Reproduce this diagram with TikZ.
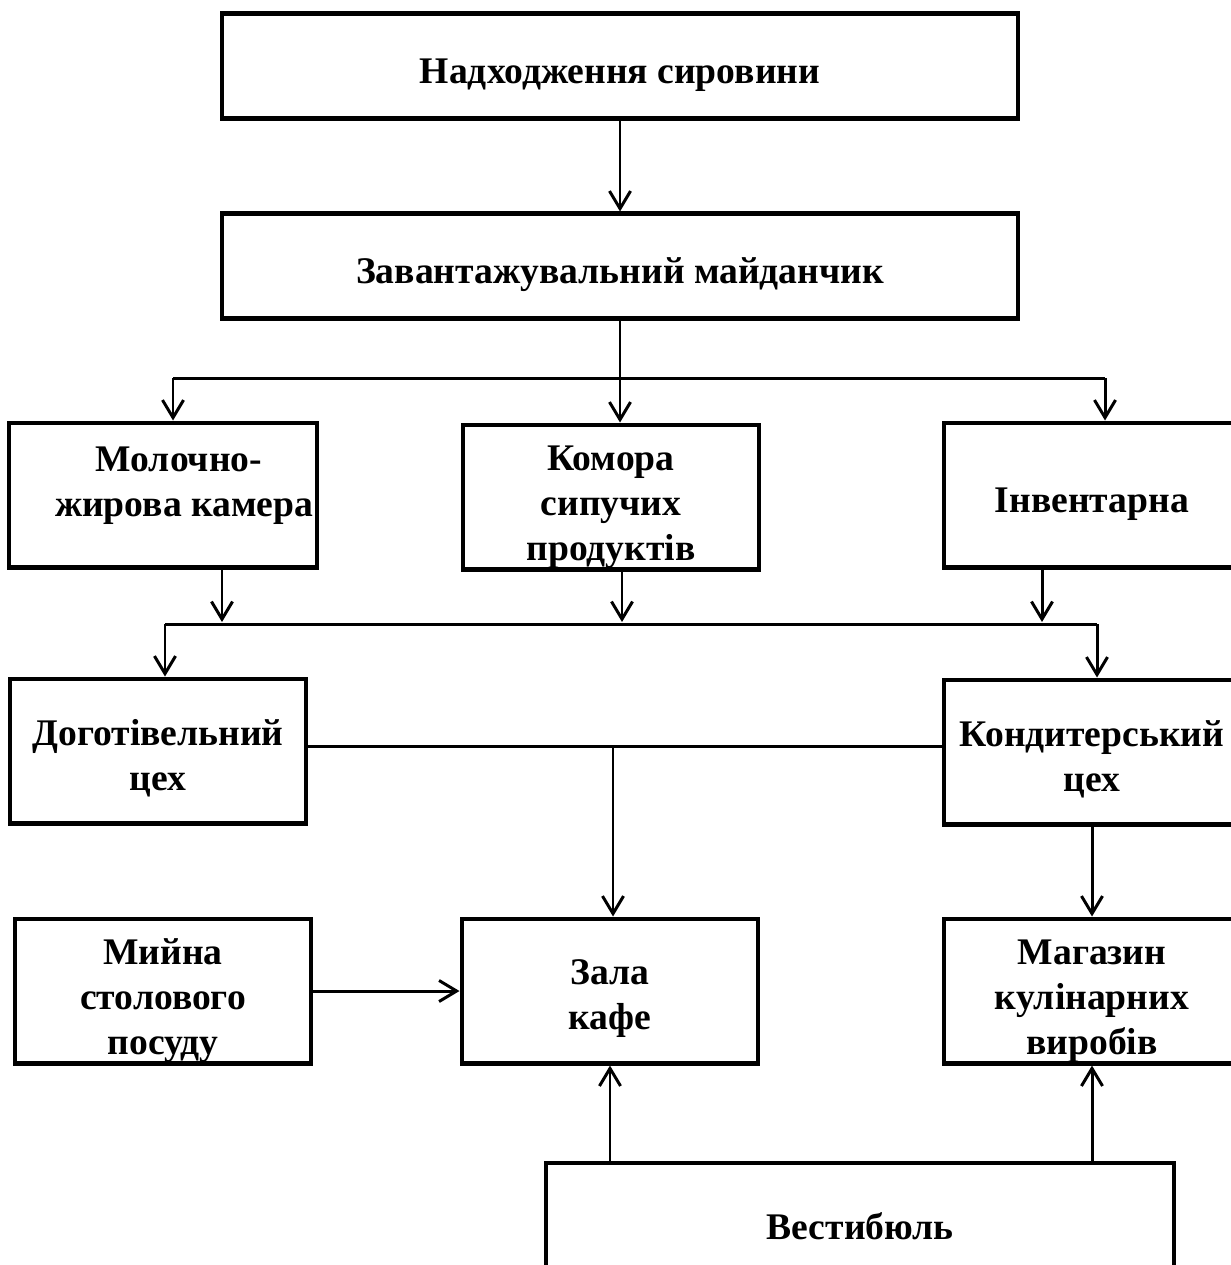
\documentclass[tikz,border=0pt]{standalone}
\usepackage{fontspec}
\setmainfont{Liberation Serif}
\usetikzlibrary{arrows.meta}
\newcommand\lift[1]{\rule{0pt}{#1}}

\begin{document}
\begin{tikzpicture}[x=0.02cm, y=-0.02cm,
    room/.style={draw, line width=2.3pt, align=center, inner xsep=2pt, inner ysep=0pt,
                 font=\fontsize{21.4}{25.6}\selectfont\bfseries,
                 execute at begin node={\lift{25pt}}},
    lifted/.style={execute at end node={\rule[-#1]{0pt}{0pt}}},
    lifted/.default=15pt,
    wide/.style={room, minimum width=15.94cm, minimum height=2.1cm},
    cell/.style={room, minimum width=5.94cm, minimum height=2.9cm},
    link/.style={line width=1.7pt},
    arr/.style={link, -{Straight Barb[length=10pt, width=12pt, line width=1.7pt]}}]
    \useasboundingbox (0,0) rectangle (1231,1265);
    \clip (0,0) rectangle (1231,1265);

    % boxes
    \node[wide] (nad) at (620,66)  {Надходження сировини};
    \node[wide] (zav) at (620,266) {Завантажувальний майданчик};
    \node[cell, lifted] (mol) at (163,495) {\hspace*{18pt}Молочно-\\\hspace*{24pt}жирова камера};
    \node[cell] (kom) at (611,497)  {\lift{26pt}Комора\\сипучих\\продуктів};
    \node[cell] (inv) at (1092,495) {Інвентарна};
    \node[cell] (dog) at (158,751)  {\lift{23pt}Доготівельний\\цех};
    \node[cell] (kon) at (1092,752) {\lift{23pt}Кондитерський\\цех};
    \node[cell] (myi) at (163,991)  {\lift{26pt}Мийна\\столового\\посуду};
    \node[cell] (zal) at (610,991)  {\lift{23pt}Зала\\кафе};
    \node[cell] (mag) at (1092,991) {\lift{26pt}Магазин\\кулінарних\\виробів};
    \node[room, lifted=10pt, minimum width=12.56cm, minimum height=2.52cm] (ves) at (860,1226) {Вестибюль};

    % bus lines
    \coordinate (a1) at (173,378);
    \coordinate (a2) at (1105,378);
    \coordinate (m1) at (222,622);
    \coordinate (m2) at (622,622);
    \coordinate (m3) at (1042,622);
    \coordinate (b1) at (165,624);
    \coordinate (b2) at (1097,624);
    \coordinate (c)  at (613,746);

    \draw[arr] (nad) -- (zav);
    \draw[arr] (zav) -- (zav |- kom.north);
    \draw[link] (a1) -- (a2);
    \draw[arr] (a1) -- (a1 |- mol.north);
    \draw[arr] (a2) -- (a2 |- inv.north);

    \draw[arr] (mol.south -| m1) -- (m1);
    \draw[arr] (kom.south -| m2) -- (m2);
    \draw[arr] (inv.south -| m3) -- (m3);
    \draw[link] (b1) -- (b2);
    \draw[arr] (b1) -- (b1 |- dog.north);
    \draw[arr] (b2) -- (b2 |- kon.north);

    \draw[link] (dog.east |- c) -- (kon.west |- c);
    \draw[arr] (c) -- (c |- zal.north);
    \draw[arr] (kon) -- (mag);
    \draw[arr] (myi) -- (zal);
    \draw[arr] (ves.north -| zal) -- (zal);
    \draw[arr] (ves.north -| mag) -- (mag);
\end{tikzpicture}
\end{document}
